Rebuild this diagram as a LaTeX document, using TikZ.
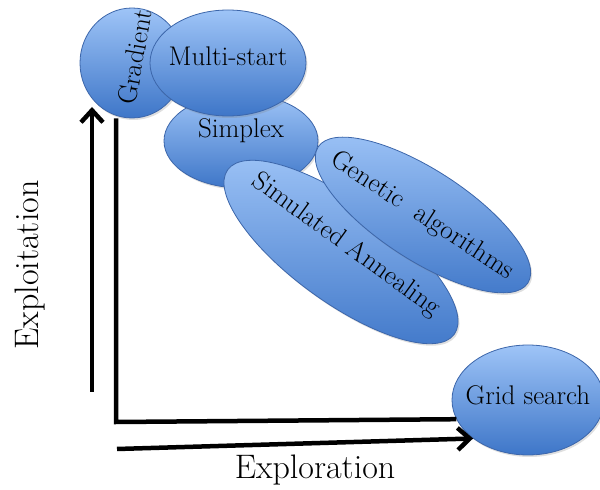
\documentclass[tikz,border=0pt]{standalone}
\usepackage{fontspec}
\usetikzlibrary{arrows.meta}
\usetikzlibrary{shapes.geometric}
\usetikzlibrary{shadows}
\definecolor{blob top}{RGB}{158,196,247}
\definecolor{blob bottom}{RGB}{62,118,200}
\definecolor{blob edge}{RGB}{60,102,170}
% text that does not widen its ellipse
\newcommand{\flattext}[2][-8pt]{\smash{\makebox[0pt]{\raisebox{#1}{#2}}}}

\begin{document}
\begin{tikzpicture}[x=1pt, y=1pt,
					blob/.style={ellipse, draw=blob edge, thick, top color=blob top, bottom color=blob bottom, inner sep=0pt, font=\fontsize{27}{30}\selectfont, drop shadow={opacity=0.25, shadow xshift=1.5pt, shadow yshift=-2pt}},
					blob label/.style={inner sep=0pt, font=\fontsize{27}{30}\selectfont},
					axis line/.style={line width=4.5pt},
					axis arrow/.style={line width=4.5pt, -{Straight Barb[length=12pt, width=22pt]}},
					axis label/.style={font=\fontsize{34}{38}\selectfont},
				]
					\useasboundingbox (0,0) rectangle (600,490);
					
					\node[blob, minimum width=104, minimum height=110] (grad) at (132,427) {};
					\node[blob, minimum width=154, minimum height=94] (simplex) at (241,349) {\flattext[3pt]{Simplex}};
					\node[blob, minimum width=156, minimum height=106] (multi) at (228,427) {\flattext[-3pt]{Multi-start}};
					\node[blob, minimum width=280, minimum height=100, rotate=-36] (anneal) at (341,238) {\flattext[2pt]{Simulated Annealing}};
					\node[blob, minimum width=250, minimum height=90, rotate=-33] (genetic) at (423,275) {\flattext{Genetic\ \ algorithms}};
					\node[blob, minimum width=152, minimum height=110] (grid) at (528,90) {\flattext[-5pt]{Grid search}};
					\node[blob label, rotate=80] (grad text) at (135,433) {Gradient};
					
					\coordinate (corner) at (116,68);
					\coordinate (up start) at (92,98);
					\coordinate (up end) at (92,383);
					\coordinate (right start) at (117,41);
					
					\draw[axis line] (grad.south -| corner) -- (corner) -- (grid.195);
					\draw[axis arrow] (up start) -- (up end);
					\draw[axis arrow] (right start) -- (grid.215);
					
					\node[axis label, rotate=90] (exploit) at (30,225) {Exploitation};
					\node[axis label] (explore) at (315,20) {Exploration};
				\end{tikzpicture}
\end{document}
